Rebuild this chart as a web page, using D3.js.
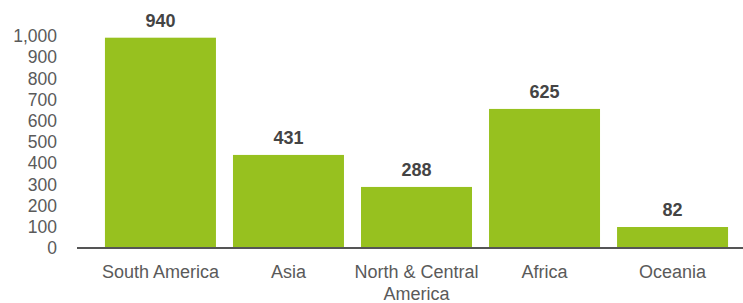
<!DOCTYPE html>
<html>
<head>
<meta charset="utf-8">
<script src="https://cdn.jsdelivr.net/npm/d3@7"></script>
<style>
  body { margin: 0; background: #fff; }
  text { font-family: "Liberation Sans", Arial, sans-serif; }
</style>
</head>
<body>
<svg id="chart" width="743" height="303"></svg>
<script>
// categories and values
const regions = ["South America", "Asia", "North & Central America", "Africa", "Oceania"];
const valueLabels = [940, 431, 288, 625, 82];
// bar heights as drawn (they don't follow the printed labels exactly)
const barValues = [992, 439, 288, 656, 99];
const tickValues = [0, 100, 200, 300, 400, 500, 600, 700, 800, 900, 1000];

const svg = d3.select("#chart");
const baseline = 248;

const x = d3.scaleBand()
  .domain(regions)
  .range([96.5, 736.5])
  .paddingInner(0.133)
  .paddingOuter(0.066);

const y = d3.scaleLinear()
  .domain([0, 1000])
  .range([baseline, 36]);

// y tick labels
svg.append("g")
  .selectAll("text")
  .data(tickValues)
  .enter()
  .append("text")
  .attr("x", 57)
  .attr("y", d => y(d))
  .attr("dy", "0.35em")
  .attr("text-anchor", "end")
  .attr("font-size", 17.5)
  .attr("fill", "#5a5a5a")
  .text(d => d3.format(",")(d));

// bars
svg.selectAll(".bar")
  .data(regions)
  .enter()
  .append("rect")
  .attr("class", "bar")
  .attr("x", d => x(d))
  .attr("y", (d, i) => y(barValues[i]))
  .attr("width", x.bandwidth())
  .attr("height", (d, i) => baseline - y(barValues[i]))
  .attr("fill", "#97c11f");

// value labels
svg.selectAll(".val")
  .data(regions)
  .enter()
  .append("text")
  .attr("class", "val")
  .attr("x", d => x(d) + x.bandwidth() / 2)
  .attr("y", (d, i) => y(barValues[i]) - 11)
  .attr("text-anchor", "middle")
  .attr("font-size", 18)
  .attr("font-weight", "bold")
  .attr("fill", "#444")
  .text((d, i) => valueLabels[i]);

// axis line
svg.append("line")
  .attr("x1", 77)
  .attr("x2", 743)
  .attr("y1", baseline)
  .attr("y2", baseline)
  .attr("stroke", "#555")
  .attr("stroke-width", 2);

// category labels, wrapped by hand
const cat = svg.append("g")
  .selectAll("text")
  .data(regions)
  .enter()
  .append("text")
  .attr("x", d => x(d) + x.bandwidth() / 2)
  .attr("y", 278)
  .attr("text-anchor", "middle")
  .attr("font-size", 18)
  .attr("fill", "#5a5a5a");

cat.each(function (d) {
  const lines = d === "North & Central America" ? ["North & Central", "America"] : [d];
  const t = d3.select(this);
  lines.forEach((line, i) => {
    t.append("tspan")
      .attr("x", t.attr("x"))
      .attr("dy", i === 0 ? 0 : 22)
      .text(line);
  });
});
</script>
</body>
</html>
